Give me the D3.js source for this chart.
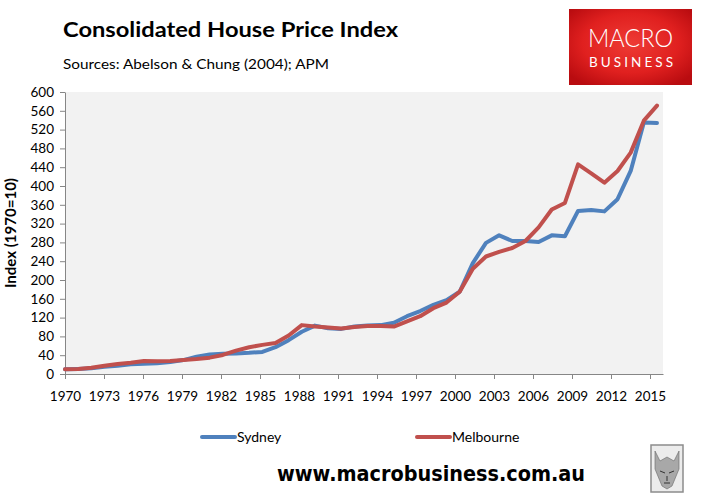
<!DOCTYPE html>
<html><head><meta charset="utf-8">
<script src="https://cdn.jsdelivr.net/npm/d3@7"></script>
<style>
html,body{margin:0;padding:0;background:#fff;}
svg{display:block;font-family:Lato,"Open Sans",sans-serif;}
</style></head>
<body><svg id="c" width="703" height="498"></svg>
<script>
const years = d3.range(1970, 2016);
const sydney = [10, 10.7, 12, 15.6, 17.7, 20.5, 22, 22.7, 25.5, 29.6, 36.8, 41.7, 43, 43.8, 45, 47, 57, 72, 90, 103, 97.5, 96, 101, 103, 104, 109, 123, 134, 147, 157, 175, 236, 279, 295, 283, 283, 281, 295, 293, 347, 349, 346, 372, 432, 535, 534];
const melbourne = [10, 10.7, 13.5, 17.7, 21.3, 24, 27.5, 27, 27.5, 29.6, 31.8, 34.8, 40.5, 49.8, 57, 62, 66, 82, 104, 101, 99, 97, 100, 102, 102, 101, 112, 123, 140, 152, 175, 224, 250, 260, 268, 283, 312, 350, 364, 446, 427, 407, 432, 471, 539, 571];
const yTicks = d3.range(0, 601, 40);
const xTickYears = d3.range(1970, 2016, 3);
const seriesNames = ["Sydney", "Melbourne"];
const colors = ["#4f81bd", "#c0504d"];

const svg = d3.select("#c");
const L = 65, R = 663, T = 92, B = 374;

// title
svg.append("text").attr("x", 63).attr("y", 37).attr("font-size", 20).attr("font-weight", "bold")
  .attr("textLength", 335).attr("lengthAdjust", "spacingAndGlyphs").text("Consolidated House Price Index");
svg.append("text").attr("x", 63).attr("y", 69).attr("font-size", 14)
  .attr("textLength", 266).attr("lengthAdjust", "spacingAndGlyphs").text("Sources: Abelson & Chung (2004); APM");

// logo
const defs = svg.append("defs");
const rg = defs.append("radialGradient").attr("id", "lg").attr("cx", "50%").attr("cy", "45%").attr("r", "65%");
rg.append("stop").attr("offset", "0%").attr("stop-color", "#ee3b35");
rg.append("stop").attr("offset", "60%").attr("stop-color", "#e0201f");
rg.append("stop").attr("offset", "100%").attr("stop-color", "#b90c10");
svg.append("rect").attr("x", 569).attr("y", 9).attr("width", 123).attr("height", 76).attr("fill", "url(#lg)");
svg.append("text").attr("x", 630.5).attr("y", 47).attr("text-anchor", "middle").attr("fill", "#fff")
  .attr("font-size", 26).attr("font-weight", 300).attr("textLength", 85).attr("lengthAdjust", "spacingAndGlyphs").text("MACRO");
svg.append("text").attr("x", 631).attr("y", 67).attr("text-anchor", "middle").attr("fill", "#fff")
  .attr("font-size", 13.5).attr("font-weight", 400).attr("textLength", 84).attr("lengthAdjust", "spacing").text("BUSINESS");

// plot area
svg.append("rect").attr("x", L).attr("y", T).attr("width", R - L).attr("height", B - T).attr("fill", "#f2f2f2");

const y = d3.scaleLinear().domain([0, 600]).range([B, T]);
const xAxisScale = d3.scaleLinear().domain([1970, 2016]).range([L, R]);
const xData = d3.scaleLinear().domain([1970, 2015]).range([L, 657]);

const yAx = svg.append("g").attr("transform", `translate(${L},0)`)
  .call(d3.axisLeft(y).tickValues(yTicks).tickSize(5).tickPadding(6).tickSizeOuter(0));
yAx.select(".domain").attr("stroke", "#868686");
yAx.selectAll(".tick line").attr("stroke", "#868686");
yAx.selectAll(".tick text").attr("font-size", 13.5).attr("fill", "#000").attr("font-family", "Lato");

const xAx = svg.append("g").attr("transform", `translate(0,${B})`)
  .call(d3.axisBottom(xAxisScale).tickValues(xTickYears).tickFormat(d3.format("d")).tickSize(5).tickPadding(12).tickSizeOuter(0));
xAx.select(".domain").attr("stroke", "#868686");
xAx.selectAll(".tick line").attr("stroke", "#868686");
xAx.selectAll(".tick text").attr("font-size", 13.5).attr("fill", "#000").attr("font-family", "Lato");

svg.append("text").attr("transform", "translate(16,233) rotate(-90)").attr("text-anchor", "middle")
  .attr("font-size", 15).attr("font-weight", "bold")
  .attr("textLength", 110).attr("lengthAdjust", "spacingAndGlyphs").text("Index (1970=10)");

const line = d3.line().x((d, i) => xData(years[i])).y(d => y(d));
[sydney, melbourne].forEach((s, k) => {
  svg.append("path").datum(s).attr("d", line).attr("fill", "none").attr("stroke", colors[k])
    .attr("stroke-width", 4).attr("stroke-linejoin", "round").attr("stroke-linecap", "round");
});

// legend
const legX = [202, 417];
seriesNames.forEach((n, k) => {
  svg.append("line").attr("x1", legX[k]).attr("x2", legX[k] + 33).attr("y1", 437).attr("y2", 437)
    .attr("stroke", colors[k]).attr("stroke-width", 4).attr("stroke-linecap", "round");
  svg.append("text").attr("x", legX[k] + 35).attr("y", 442).attr("font-size", 14).text(n);
});

svg.append("text").attr("x", 431).attr("y", 481).attr("text-anchor", "middle").attr("font-size", 21)
  .attr("font-weight", "bold").attr("font-family", "'DejaVu Sans',Verdana,sans-serif")
  .attr("textLength", 308).attr("lengthAdjust", "spacingAndGlyphs").text("www.macrobusiness.com.au");

// wolf badge
const wg = svg.append("g");
wg.append("rect").attr("x", 651).attr("y", 445).attr("width", 32).attr("height", 47).attr("fill", "#ececec").attr("stroke", "#8c8c8c").attr("stroke-width", 1.5);
wg.append("path").attr("d", "M655,451 L660,461 L667,457 L674,461 L679,451 L679,469 L672,486 L667,489 L662,486 L655,469 Z")
  .attr("fill", "#a8a8a8").attr("stroke", "#666").attr("stroke-width", 0.6);
wg.append("path").attr("d", "M660,471 L665,473 M674,471 L669,473 M664,483 L670,483 M667,476 L667,481").attr("stroke", "#333").attr("stroke-width", 1);
</script></body></html>
